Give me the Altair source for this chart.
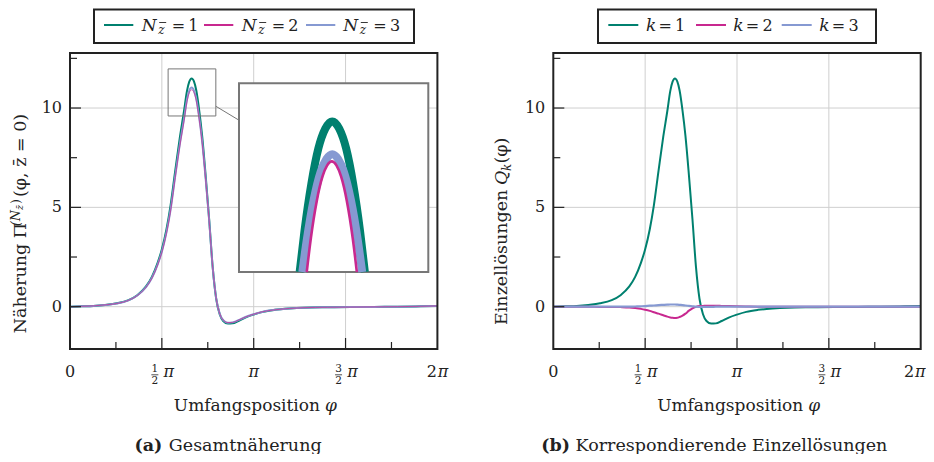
import math
import altair as alt
import pandas as pd

PI = math.pi

# ---------------- data ----------------
phi = [0.0, 0.2, 0.4, 0.6, 0.8, 1.0, 1.15, 1.3, 1.4, 1.5, 1.57, 1.65, 1.72, 1.8,
       1.88, 1.95, 2.0, 2.04, 2.08, 2.12, 2.16, 2.21, 2.26, 2.32, 2.38, 2.44, 2.5,
       2.56, 2.62, 2.7, 2.78, 2.88, 3.0, 3.14, 3.3, 3.5, 3.75, 4.0, 4.4, 4.8, 5.2,
       5.6, 6.0, 6.283]

# left panel: approximations N=1,2,3
n1 = [0.00, 0.02, 0.04, 0.09, 0.17, 0.33, 0.58, 1.02, 1.50, 2.22, 2.88, 3.90, 5.10, 6.85,
      8.55, 9.85, 10.85, 11.33, 11.49, 11.34, 10.88, 9.87, 8.60, 6.60, 4.40, 2.00, 0.40,
      -0.38, -0.72, -0.85, -0.84, -0.72, -0.55, -0.40, -0.26, -0.16, -0.09, -0.05, -0.03,
      -0.02, -0.01, 0.00, 0.02, 0.04]
n2 = [0.00, 0.02, 0.04, 0.09, 0.16, 0.32, 0.56, 0.98, 1.43, 2.11, 2.73, 3.69, 4.82, 6.50,
      8.12, 9.35, 10.31, 10.77, 10.92, 10.78, 10.36, 9.42, 8.25, 6.40, 4.32, 1.99, 0.43,
      -0.34, -0.67, -0.80, -0.79, -0.68, -0.52, -0.38, -0.25, -0.16, -0.09, -0.05, -0.03,
      -0.02, -0.01, 0.00, 0.02, 0.04]
n3 = [0.00, 0.02, 0.04, 0.09, 0.16, 0.32, 0.56, 0.98, 1.44, 2.13, 2.76, 3.74, 4.88, 6.58,
      8.21, 9.45, 10.42, 10.88, 11.03, 10.88, 10.45, 9.50, 8.31, 6.44, 4.34, 1.99, 0.42,
      -0.35, -0.68, -0.81, -0.79, -0.68, -0.52, -0.38, -0.25, -0.16, -0.09, -0.05, -0.03,
      -0.02, -0.01, 0.00, 0.02, 0.04]

# right panel: single solutions Q1,Q2,Q3
q1 = n1
q2 = [0.00, 0.00, 0.00, 0.00, -0.01, -0.01, -0.02, -0.04, -0.07, -0.11, -0.15, -0.21, -0.28,
      -0.35, -0.43, -0.50, -0.54, -0.56, -0.57, -0.56, -0.52, -0.45, -0.35, -0.20, -0.08,
      -0.01, 0.03, 0.04, 0.05, 0.05, 0.05, 0.04, 0.03, 0.02, 0.01, 0.00, 0.00, 0.00, 0.00,
      0.00, 0.00, 0.00, 0.00, 0.00]
q3 = [0.00, 0.00, 0.00, 0.00, 0.00, 0.00, 0.00, 0.00, 0.01, 0.02, 0.03, 0.05, 0.06, 0.08,
      0.09, 0.10, 0.11, 0.11, 0.11, 0.10, 0.09, 0.08, 0.06, 0.04, 0.02, 0.00, -0.01, -0.01,
      -0.01, -0.01, 0.00, 0.00, 0.00, 0.00, 0.00, 0.00, 0.00, 0.00, 0.00, 0.00, 0.00, 0.00,
      0.00, 0.00]

# zoomed inset (peak region)
in_phi1 = [1.9395, 1.96, 1.99, 2.02, 2.05, 2.08, 2.11, 2.14, 2.17, 2.20, 2.2205]
in_n1 = [9.60, 10.11, 10.71, 11.15, 11.40, 11.49, 11.40, 11.15, 10.71, 10.11, 9.60]
in_phi3 = [1.951, 1.97, 2.00, 2.03, 2.055, 2.08, 2.105, 2.13, 2.16, 2.19, 2.209]
in_n3 = [9.60, 10.00, 10.51, 10.86, 11.02, 11.08, 11.02, 10.86, 10.51, 10.00, 9.60]
in_phi2 = [1.970, 1.988, 2.013, 2.038, 2.058, 2.078, 2.098, 2.118, 2.143, 2.168, 2.186]
in_n2 = [9.60, 10.03, 10.49, 10.80, 10.94, 10.99, 10.94, 10.80, 10.49, 10.03, 9.60]
inset_x = [1.678, 2.494]
inset_y = [9.60, 11.97]

# ticks
x_major = [PI / 2, PI, 3 * PI / 2]
x_minor = [PI / 4, 3 * PI / 4, 5 * PI / 4, 7 * PI / 4]
y_major = [0, 5, 10]
y_minor = [2.5, 7.5, 12.5]
y_labels = ["0", "5", "10"]
x_zero = [0]
x_pi = [PI]
x_twopi = [2 * PI]
xfrac_vals = [PI / 2, 3 * PI / 2]
xfrac_num = ["1", "3"]
xfrac_den = ["2", "2"]

# ---------------- styling / layout ----------------
FONT = "DejaVu Serif"
INK = "#222222"
GRID = "#cfcfcf"
TEAL = "#00806f"
MAG = "#c8288f"
BLUE = "#8699d2"
BOXC = "#777777"

W, H = 856, 401
PW, PH = 367.4, 296
LX0, RX0 = 0.0, 483.3
XDOM = [0, 2 * PI]
YDOM = [-2.13, 12.77]
ONE = pd.DataFrame({"a": [0]})


def sx(x0):
    return alt.Scale(domain=XDOM, range=[x0, x0 + PW], nice=False, zero=False)


SY = alt.Scale(domain=YDOM, range=[PH, 0], nice=False, zero=False)
SXI = alt.Scale(domain=inset_x, range=[169, 358.3], nice=False, zero=False)
SYI = alt.Scale(domain=inset_y, range=[219, 30.3], nice=False, zero=False)


def txt(s, x, y, size=16, style="normal", weight="normal", align="left", angle=0,
        baseline="alphabetic", color=INK):
    kw = dict(text=s, font=FONT, fontSize=size, fontStyle=style, fontWeight=weight,
              align=align, baseline=baseline, color=color)
    if angle:
        kw["angle"] = angle
    return alt.Chart(ONE).mark_text(**kw).encode(x=alt.value(x), y=alt.value(y))


def hbar(xa, xb, y, width=1.0):
    return alt.Chart(ONE).mark_rule(color=INK, strokeWidth=width).encode(
        x=alt.value(xa), x2=alt.value(xb), y=alt.value(y))


def line(xv, yv, color, width, xsc, ysc):
    df = pd.DataFrame({"phi": xv, "v": yv})
    return alt.Chart(df).mark_line(color=color, strokeWidth=width, interpolate="monotone").encode(
        x=alt.X("phi:Q", scale=xsc, axis=None), y=alt.Y("v:Q", scale=ysc, axis=None))


def panel_grid(x0):
    xsc = sx(x0)
    return [
        alt.Chart(pd.DataFrame({"v": x_major})).mark_rule(color=GRID, strokeWidth=1).encode(
            x=alt.X("v:Q", scale=xsc, axis=None), y=alt.value(0), y2=alt.value(PH)),
        alt.Chart(pd.DataFrame({"v": y_major})).mark_rule(color=GRID, strokeWidth=1).encode(
            y=alt.Y("v:Q", scale=SY, axis=None), x=alt.value(x0), x2=alt.value(x0 + PW)),
    ]


def xlab(vals, text, xsc, y, dx=0, size=16, style="normal"):
    return alt.Chart(pd.DataFrame({"v": vals})).mark_text(
        text=text, font=FONT, fontSize=size, fontStyle=style, align="center",
        baseline="alphabetic", dx=dx, color=INK).encode(
        x=alt.X("v:Q", scale=xsc, axis=None), y=alt.value(y))


def panel_frame(x0, shift_last=0):
    xsc = sx(x0)
    L = []
    for vals, ln in ((x_major, 11), (x_minor, 7)):
        L.append(alt.Chart(pd.DataFrame({"v": vals})).mark_rule(color=INK, strokeWidth=1.2).encode(
            x=alt.X("v:Q", scale=xsc, axis=None), y=alt.value(PH), y2=alt.value(PH - ln)))
    for vals, ln in ((y_major, 11), (y_minor, 7)):
        L.append(alt.Chart(pd.DataFrame({"v": vals})).mark_rule(color=INK, strokeWidth=1.2).encode(
            y=alt.Y("v:Q", scale=SY, axis=None), x=alt.value(x0), x2=alt.value(x0 + ln)))
    L.append(alt.Chart(ONE).mark_rect(fillOpacity=0, stroke=INK, strokeWidth=2).encode(
        x=alt.value(x0), x2=alt.value(x0 + PW), y=alt.value(0), y2=alt.value(PH)))
    # y tick labels
    L.append(alt.Chart(pd.DataFrame({"v": y_major, "t": y_labels})).mark_text(
        font=FONT, fontSize=16, align="right", baseline="middle", color=INK).encode(
        y=alt.Y("v:Q", scale=SY, axis=None), x=alt.value(x0 - 8), text="t:N"))
    # x tick labels
    L.append(xlab(x_zero, "0", xsc, 324))
    L.append(xlab(x_pi, "π", xsc, 324, style="italic"))
    L.append(xlab(x_twopi, "2", xsc, 324, dx=-5.5 + shift_last))
    L.append(xlab(x_twopi, "π", xsc, 324, dx=5.5 + shift_last, style="italic"))
    fr = pd.DataFrame({"v": xfrac_vals, "num": xfrac_num, "den": xfrac_den})
    L.append(xlab(xfrac_vals, "π", xsc, 324, dx=7, style="italic"))
    L.append(alt.Chart(fr).mark_text(font=FONT, fontSize=10.5, align="center",
                                     baseline="alphabetic", dx=-7, color=INK).encode(
        x=alt.X("v:Q", scale=xsc, axis=None), y=alt.value(319.3), text="num:N"))
    L.append(alt.Chart(fr).mark_text(font=FONT, fontSize=10.5, align="center",
                                     baseline="alphabetic", dx=-7, color=INK).encode(
        x=alt.X("v:Q", scale=xsc, axis=None), y=alt.value(331), text="den:N"))
    L.append(alt.Chart(fr).mark_rule(color=INK, strokeWidth=0.8, xOffset=-10.5, x2Offset=-3.5).encode(
        x=alt.X("v:Q", scale=xsc, axis=None), x2=alt.X2("v:Q"), y=alt.value(321.8)))
    # x axis title
    L.append(txt("Umfangsposition", x0 + 250, 357.7, 17, align="right"))
    L.append(txt("φ", x0 + 255, 357.7, 17, style="italic"))
    return L


def legend_box(xa, xb):
    return alt.Chart(ONE).mark_rect(fill="white", stroke=INK, strokeWidth=2).encode(
        x=alt.value(xa), x2=alt.value(xb), y=alt.value(-43.5), y2=alt.value(-10))


def legend_line(xa, length, color):
    return alt.Chart(ONE).mark_rule(color=color, strokeWidth=2).encode(
        x=alt.value(xa), x2=alt.value(xa + length), y=alt.value(-28))


layers = []

# ======== left panel ========
xl = sx(LX0)
layers += panel_grid(LX0)
layers += [line(phi, n1, TEAL, 2, xl, SY), line(phi, n3, BLUE, 2, xl, SY),
           line(phi, n2, MAG, 0.7, xl, SY)]
box_df = pd.DataFrame({"x1": [inset_x[0]], "x2": [inset_x[1]], "y1": [inset_y[0]], "y2": [inset_y[1]]})
layers.append(alt.Chart(box_df).mark_rect(fillOpacity=0, stroke=BOXC, strokeWidth=1).encode(
    x=alt.X("x1:Q", scale=xl, axis=None), x2="x2:Q",
    y=alt.Y("y1:Q", scale=SY, axis=None), y2="y2:Q"))
conn_df = pd.DataFrame({"x1": [2.494], "x2": [2.894], "y1": [10.09], "y2": [9.38]})
layers.append(alt.Chart(conn_df).mark_rule(color=BOXC, strokeWidth=1).encode(
    x=alt.X("x1:Q", scale=xl, axis=None), x2="x2:Q",
    y=alt.Y("y1:Q", scale=SY, axis=None), y2="y2:Q"))
# inset
layers.append(alt.Chart(box_df).mark_rect(fill="white", stroke=BOXC, strokeWidth=2).encode(
    x=alt.X("x1:Q", scale=SXI, axis=None), x2="x2:Q",
    y=alt.Y("y1:Q", scale=SYI, axis=None), y2="y2:Q"))
layers += [line(in_phi1, in_n1, TEAL, 8, SXI, SYI), line(in_phi3, in_n3, BLUE, 8, SXI, SYI),
           line(in_phi2, in_n2, MAG, 2.6, SXI, SYI)]
layers += panel_frame(LX0)

# left legend
layers.append(legend_box(24, 344))
for c, ls, lx, num in zip([TEAL, MAG, BLUE], [34, 134, 236], [71.7, 171.7, 273.3], ["1", "2", "3"]):
    layers.append(legend_line(ls, 29.3, c))
    layers.append(txt("N", lx, -22.5, 17, style="italic"))
    layers.append(txt("z", lx + 16.5, -19.5, 12, style="italic"))
    layers.append(hbar(lx + 17.5, lx + 24.5, -30.5, 0.9))
    layers.append(txt("=\u2009" + num, lx + 30, -22.5, 16))

# left y title
YX = -44
layers.append(txt("Näherung Π", YX, 280.3, 17.5, angle=270))
layers.append(txt("(N", YX - 6.5, 173, 12.5, style="italic", angle=270))
layers.append(txt("z\u0304", YX - 3.5, 157, 9.5, style="italic", angle=270))
layers.append(txt(")", YX - 6.5, 151, 12.5, angle=270))
layers.append(txt("(φ, z\u0304 = 0)", YX, 144, 17.5, angle=270))

# left caption
layers.append(txt("(a)", 64.5, 398, 17.5, weight="bold"))
layers.append(txt("Gesamtnäherung", 98.8, 398, 17.5))

# ======== right panel ========
xr = sx(RX0)
layers += panel_grid(RX0)
layers += [line(phi, q1, TEAL, 2, xr, SY), line(phi, q2, MAG, 2, xr, SY),
           line(phi, q3, BLUE, 2.2, xr, SY)]
layers += panel_frame(RX0, shift_last=-6)

layers.append(legend_box(528, 806))
for c, ls, kx, num in zip([TEAL, MAG, BLUE], [538.3, 626, 711.7], [576, 663.3, 749.3], ["1", "2", "3"]):
    layers.append(legend_line(ls, 30, c))
    layers.append(txt("k", kx, -22.5, 17, style="italic"))
    layers.append(txt("=\u2009" + num, kx + 12.5, -22.5, 16))

YT0 = 272
layers.append(txt("Einzellösungen", RX0 - 46.3, YT0, 17.5, angle=270))
layers.append(txt("Q", RX0 - 46.3, YT0 - 140, 17.5, style="italic", angle=270))
layers.append(txt("k", RX0 - 42, YT0 - 154, 12, style="italic", angle=270))
layers.append(txt("(φ)", RX0 - 46.3, YT0 - 161.5, 17.5, angle=270))

layers.append(txt("(b)", RX0 - 12, 398, 17.5, weight="bold"))
layers.append(txt("Korrespondierende Einzellösungen", RX0 + 22.3, 398, 17.5))

chart = alt.layer(*layers).resolve_scale(x="independent", y="independent").properties(
    width=W, height=H,
    autosize=alt.AutoSizeParams(type="none"),
    padding={"left": 62, "top": 45, "right": 0, "bottom": 0},
).configure_view(strokeWidth=0)

chart.save("out.html", embed_options={"renderer": "svg", "actions": False})
